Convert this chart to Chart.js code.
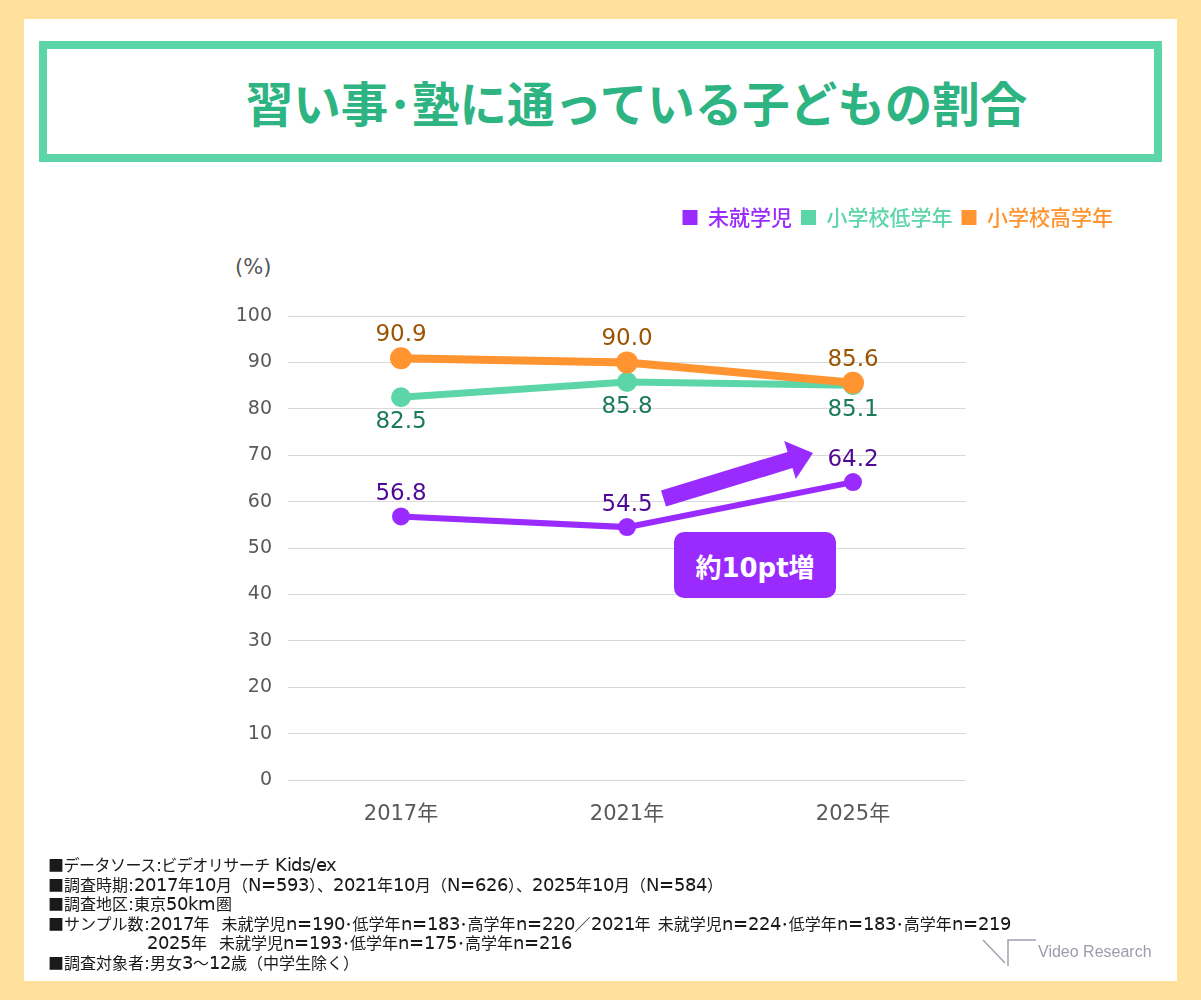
<!DOCTYPE html>
<html lang="ja">
<head>
<meta charset="utf-8">
<script src="https://cdn.jsdelivr.net/npm/chart.js@4.4.1/dist/chart.umd.min.js"></script>
<style>
  @font-face {
    font-family: "NoteLatin";
    src: local("DejaVu Sans");
    unicode-range: U+0020-007E;
    size-adjust: 110%;
  }
  body { margin: 0; background: #FFE09D; font-family: "Noto Sans CJK JP", sans-serif; }
  #page { position: relative; width: 1201px; height: 1000px; overflow: hidden; }
  #panel { position: absolute; left: 24px; top: 19px; width: 1153px; height: 962px; background: #fff; }
  #title {
    position: absolute; left: 39px; top: 41px; width: 1123px; height: 121px; box-sizing: border-box;
    border: 8px solid #5CD6A9; padding-left: 72px;
    display: flex; align-items: center; justify-content: center;
    color: #2DB482; font-weight: bold; font-size: 47.5px;
  }
  #chartBox { position: absolute; left: 200px; top: 190px; width: 930px; height: 650px; }
  #unit { position: absolute; left: 235px; top: 255px; font-size: 21px; color: #555; font-family: "DejaVu Sans", sans-serif; }
  #badge {
    position: absolute; left: 674px; top: 532px; width: 162px; height: 66px; border-radius: 10px;
    background: #9A2BFF; color: #fff; font-weight: bold; font-size: 26px;
    font-family: "DejaVu Sans", "Noto Sans CJK JP", sans-serif;
    display: flex; align-items: center; justify-content: center;
  }
  #overlay { position: absolute; left: 0; top: 0; pointer-events: none; }
  #notes {
    position: absolute; left: 48px; top: 856px; font-size: 16px; line-height: 19.5px; color: #1a1a1a;
    white-space: nowrap; font-family: "NoteLatin", "Noto Sans CJK JP", sans-serif;
  }
  #notes .tight { letter-spacing: -0.5px; }
  #notes .indent { padding-left: 99px; }
  #logo { position: absolute; left: 1038px; top: 943px; font-size: 16px; color: #9a9cab; font-family: "Liberation Sans", sans-serif; }
</style>
</head>
<body>
<div id="page">
  <div id="panel"></div>
  <div id="title">習い事･塾に通っている子どもの割合</div>
  <div id="unit">(%)</div>
  <div id="chartBox"><canvas id="chart"></canvas></div>
  <svg id="overlay" width="1201" height="1000">
    <!-- 約10pt増 の矢印 -->
    <polygon points="661,490.4 787.6,451.9 784.2,440.9 813,453 795.8,479.1 792.5,468.1 666,506.6" fill="#9A2BFF"/>
    <!-- ロゴ -->
    <g stroke="#a0a2ae" stroke-width="1.5" fill="none">
      <line x1="983" y1="940" x2="1005" y2="963"/>
      <polyline points="1008,966 1008,940 1036,940"/>
    </g>
  </svg>
  <div id="badge">約10pt増</div>
  <div id="notes">
    <div class="tight">■データソース:ビデオリサーチ Kids/ex</div>
    <div>■調査時期:2017年10月（N=593）、2021年10月（N=626）、2025年10月（N=584）</div>
    <div>■調査地区:東京50km圏</div>
    <div>■サンプル数:2017年&nbsp;&nbsp;未就学児n=190･低学年n=183･高学年n=220／2021年&nbsp;&nbsp;未就学児n=224･低学年n=183･高学年n=219</div>
    <div class="indent">2025年&nbsp;&nbsp;未就学児n=193･低学年n=175･高学年n=216</div>
    <div>■調査対象者:男女3～12歳（中学生除く）</div>
  </div>
  <div id="logo">Video Research</div>
</div>

<script>
// データ
const years = ["2017年", "2021年", "2025年"];
const seriesNames = ["未就学児", "小学校低学年", "小学校高学年"];
const preschool = [56.8, 54.5, 64.2];
const lowerGrades = [82.5, 85.8, 85.1];
const upperGrades = [90.9, 90.0, 85.6];
const yTicks = [0, 10, 20, 30, 40, 50, 60, 70, 80, 90, 100];

const FONT = "'Noto Sans CJK JP', sans-serif";
const NUMFONT = "'DejaVu Sans', 'Noto Sans CJK JP', sans-serif";

// 数値ラベル
const valueLabels = {
  id: "valueLabels",
  afterDatasetsDraw(chart) {
    const ctx = chart.ctx;
    chart.data.datasets.forEach((ds, i) => {
      const meta = chart.getDatasetMeta(i);
      ctx.save();
      ctx.font = "23px " + NUMFONT;
      ctx.fillStyle = ds.labelColor;
      ctx.textAlign = "center";
      ctx.textBaseline = "middle";
      meta.data.forEach((pt, j) => {
        ctx.fillText(ds.data[j].toFixed(1), pt.x, pt.y + ds.labelOffset);
      });
      ctx.restore();
    });
  }
};

// 凡例の高さを固定
const legendSpace = {
  id: "legendSpace",
  beforeInit(chart) {
    const fit = chart.legend.fit;
    chart.legend.fit = function () {
      fit.call(this);
      this.height = 118;
    };
  }
};

new Chart(document.getElementById("chart"), {
  type: "line",
  data: {
    labels: years,
    datasets: [
      {
        label: seriesNames[0], data: preschool,
        borderColor: "#9A2BFF", backgroundColor: "#9A2BFF", borderWidth: 6, pointRadius: 6,
        labelColor: "#4F0A96", labelOffset: -22, order: 2
      },
      {
        label: seriesNames[1], data: lowerGrades,
        borderColor: "#5CD6A9", backgroundColor: "#5CD6A9", borderWidth: 7, pointRadius: 6.5,
        labelColor: "#1B7B57", labelOffset: 25, order: 1
      },
      {
        label: seriesNames[2], data: upperGrades,
        borderColor: "#FF9430", backgroundColor: "#FF9430", borderWidth: 8, pointRadius: 7,
        labelColor: "#9A5300", labelOffset: -23, order: 0
      }
    ]
  },
  options: {
    responsive: true,
    maintainAspectRatio: false,
    animation: false,
    layout: { padding: { top: 8, right: 8 } },
    elements: {
      line: { tension: 0 },
      point: { hoverRadius: 7, borderWidth: 0 }
    },
    plugins: {
      tooltip: { enabled: false },
      legend: {
        position: "top",
        align: "end",
        labels: {
          usePointStyle: true,
          pointStyle: "rect",
          boxWidth: 15,
          boxHeight: 15,
          padding: 9,
          font: { size: 21, weight: "500", family: FONT },
          generateLabels(chart) {
            return chart.data.datasets.map((ds, i) => ({
              text: ds.label,
              fillStyle: ds.borderColor,
              strokeStyle: ds.borderColor,
              fontColor: ds.borderColor,
              lineWidth: 0,
              pointStyle: "rect",
              hidden: false,
              datasetIndex: i
            }));
          }
        }
      }
    },
    scales: {
      x: {
        offset: true,
        grid: { display: false },
        border: { display: false },
        ticks: { color: "#595959", padding: 14, font: { size: 21, family: NUMFONT } },
        afterFit(s) { s.height = 60; }
      },
      y: {
        min: 0,
        max: 100,
        grid: { color: "#d9d9d9", lineWidth: 1, drawTicks: false },
        border: { display: false },
        afterBuildTicks(s) { s.ticks = yTicks.map(v => ({ value: v })); },
        ticks: { color: "#595959", padding: 16, font: { size: 19, family: NUMFONT } },
        afterFit(s) { s.width = 88; }
      },
      yRight: {
        position: "right",
        grid: { display: false },
        border: { display: false },
        ticks: { display: false },
        afterFit(s) { s.width = 156; }
      }
    }
  },
  plugins: [valueLabels, legendSpace]
});
</script>
</body>
</html>
